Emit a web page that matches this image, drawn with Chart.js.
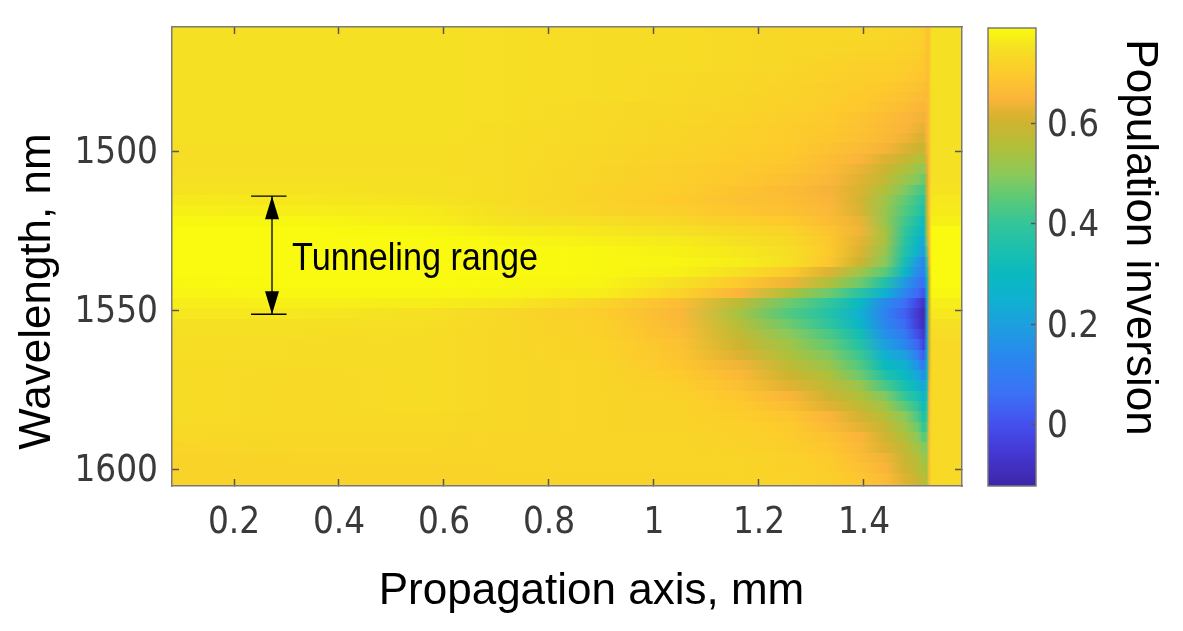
<!DOCTYPE html>
<html>
<head>
<meta charset="utf-8">
<title>Population inversion</title>
<script src="https://cdn.jsdelivr.net/npm/chart.js@4"></script>
<style>
  body { margin: 0; background: #fff; }
  #wrap { position: relative; width: 1183px; height: 631px; }
  canvas { position: absolute; left: 0; top: 0; }
</style>
</head>
<body>
<div id="wrap">
  <canvas id="chartMap" width="1183" height="631"></canvas>
  <canvas id="chartBar" width="1183" height="631"></canvas>
</div>
<script>
// propagation axis, mm (columns of the map)
const positions = [0.082, 0.326, 0.573, 0.726, 0.897, 1.05, 1.162, 1.257, 1.333, 1.392, 1.44, 1.478, 1.503, 1.514, 1.520, 1.524, 1.529, 1.587];

// wavelength, nm (rows of the map)
const wavelengths = [
  1460.3, 1463.5, 1466.8, 1470.0, 1473.3, 1476.5, 1479.8, 1483.0, 1486.2, 1489.5,
  1492.7, 1496.0, 1499.2, 1502.5, 1505.7, 1508.9, 1512.2, 1515.4, 1518.7, 1521.9,
  1525.2, 1528.4, 1531.6, 1534.9, 1538.1, 1541.4, 1544.6, 1547.8, 1551.0, 1554.3,
  1557.5, 1560.8, 1564.0, 1567.2, 1570.5, 1573.7, 1577.0, 1580.2, 1583.5, 1586.7,
  1589.9, 1593.2, 1596.4, 1599.7, 1602.9, 1606.1
];

// population inversion, one row per wavelength
const inversion = [
  [.75,.75,.75,.745,.74,.74,.735,.73,.73,.73,.73,.725,.72,.71,.685,.68,.75,.75],
  [.75,.75,.75,.745,.74,.74,.735,.73,.73,.73,.73,.725,.72,.71,.685,.68,.75,.75],
  [.75,.75,.75,.745,.74,.74,.735,.73,.73,.725,.725,.72,.715,.705,.68,.68,.75,.75],
  [.75,.75,.75,.745,.74,.74,.735,.73,.725,.72,.72,.715,.71,.70,.675,.68,.75,.75],
  [.75,.75,.75,.745,.74,.74,.735,.73,.72,.715,.715,.71,.70,.695,.675,.68,.75,.75],
  [.75,.75,.75,.745,.74,.735,.73,.725,.715,.71,.71,.70,.69,.685,.67,.68,.75,.75],
  [.75,.75,.75,.745,.74,.735,.73,.72,.71,.705,.70,.69,.68,.675,.665,.68,.75,.75],
  [.75,.75,.75,.745,.74,.735,.725,.72,.71,.70,.69,.68,.67,.665,.66,.68,.75,.75],
  [.75,.75,.75,.745,.735,.73,.725,.715,.705,.695,.68,.67,.655,.65,.66,.68,.75,.75],
  [.75,.75,.75,.745,.735,.73,.72,.71,.70,.685,.67,.655,.645,.64,.65,.68,.75,.75],
  [.75,.75,.75,.74,.735,.725,.715,.705,.695,.68,.665,.65,.635,.63,.65,.68,.75,.75],
  [.75,.75,.75,.74,.735,.725,.715,.705,.69,.675,.66,.64,.62,.615,.65,.68,.75,.75],
  [.745,.745,.745,.74,.73,.72,.71,.70,.68,.665,.645,.62,.60,.59,.64,.68,.75,.75],
  [.745,.745,.745,.74,.73,.715,.705,.695,.67,.65,.62,.59,.56,.55,.63,.68,.75,.75],
  [.745,.745,.745,.74,.725,.71,.70,.685,.665,.635,.60,.55,.52,.50,.62,.68,.75,.75],
  [.75,.75,.75,.74,.725,.71,.695,.675,.655,.625,.58,.52,.49,.46,.60,.68,.75,.75],
  [.755,.755,.75,.74,.72,.705,.685,.665,.645,.615,.55,.49,.44,.42,.60,.68,.755,.755],
  [.765,.76,.755,.74,.72,.70,.68,.67,.65,.61,.53,.46,.41,.38,.58,.68,.76,.76],
  [.775,.77,.765,.745,.725,.71,.69,.675,.66,.615,.52,.44,.39,.35,.58,.68,.765,.765],
  [.785,.785,.77,.755,.745,.73,.71,.70,.67,.635,.52,.42,.35,.31,.56,.67,.775,.775],
  [.79,.79,.785,.77,.76,.75,.735,.72,.685,.64,.54,.40,.32,.27,.55,.67,.79,.79],
  [.79,.79,.79,.785,.775,.765,.75,.735,.695,.63,.54,.38,.29,.22,.50,.66,.79,.79],
  [.79,.79,.79,.79,.785,.775,.76,.745,.70,.62,.52,.36,.25,.18,.45,.65,.79,.79],
  [.79,.79,.79,.79,.785,.78,.77,.75,.69,.60,.50,.33,.18,.12,.40,.64,.79,.79],
  [.79,.79,.79,.79,.785,.775,.75,.70,.62,.53,.45,.28,.14,.10,.35,.62,.79,.79],
  [.785,.79,.79,.785,.78,.75,.70,.64,.55,.47,.36,.18,.09,.05,.30,.60,.79,.79],
  [.78,.785,.785,.78,.77,.72,.65,.55,.47,.38,.25,.13,.05,.0,.25,.60,.785,.785],
  [.77,.775,.77,.76,.725,.67,.57,.47,.40,.30,.14,.06,-.03,-.08,.22,.60,.77,.77],
  [.76,.76,.75,.73,.71,.655,.54,.44,.37,.25,.12,.03,-.06,-.11,.20,.60,.76,.76],
  [.75,.75,.745,.73,.715,.66,.56,.47,.39,.28,.13,.05,-.05,-.10,.20,.60,.75,.75],
  [.745,.745,.74,.73,.715,.67,.58,.50,.43,.33,.16,.09,-.01,-.07,.20,.60,.74,.74],
  [.745,.74,.74,.73,.72,.68,.60,.53,.46,.37,.20,.13,.04,-.04,.22,.60,.735,.735],
  [.745,.74,.74,.73,.72,.685,.62,.55,.49,.41,.25,.20,.10,.02,.24,.61,.735,.735],
  [.74,.74,.74,.73,.725,.69,.64,.575,.52,.44,.30,.25,.16,.07,.27,.62,.735,.735],
  [.74,.735,.74,.73,.725,.70,.66,.60,.55,.47,.36,.30,.22,.14,.30,.63,.735,.735],
  [.74,.735,.74,.73,.725,.71,.675,.625,.575,.52,.43,.34,.28,.20,.33,.64,.735,.735],
  [.74,.735,.74,.73,.725,.715,.69,.65,.60,.55,.49,.40,.34,.27,.37,.65,.735,.735],
  [.74,.735,.74,.73,.725,.72,.70,.67,.625,.58,.53,.45,.39,.31,.40,.66,.735,.735],
  [.74,.735,.735,.73,.725,.72,.71,.69,.65,.61,.56,.50,.43,.35,.42,.66,.735,.735],
  [.735,.735,.735,.73,.725,.72,.715,.70,.665,.63,.59,.53,.47,.39,.45,.67,.735,.735],
  [.735,.73,.73,.725,.725,.725,.715,.705,.68,.65,.605,.55,.50,.44,.48,.67,.735,.735],
  [.725,.73,.73,.725,.725,.725,.72,.71,.69,.66,.62,.58,.53,.49,.50,.68,.735,.735],
  [.72,.725,.725,.725,.725,.725,.725,.715,.70,.67,.64,.59,.56,.52,.52,.68,.735,.735],
  [.72,.72,.72,.725,.725,.725,.725,.715,.705,.68,.65,.60,.57,.54,.54,.68,.735,.735],
  [.72,.72,.72,.72,.72,.72,.725,.72,.71,.69,.665,.62,.59,.56,.56,.68,.735,.735],
  [.72,.72,.72,.72,.72,.72,.725,.72,.71,.695,.67,.63,.60,.58,.58,.68,.735,.735]
];

// axis ranges and ticks
const xRange = [0.0819, 1.5867];
const yRange = [1461, 1605.3];
const barRange = [-0.123, 0.791];
const xTicks = [0.2, 0.4, 0.6, 0.8, 1, 1.2, 1.4];
const yTicks = [1500, 1550, 1600];
const barTicks = [0, 0.2, 0.4, 0.6];

// tunneling range marker
const tunnelRange = [1514.2, 1551.3];
const tunnelX = [0.2325, 0.2724, 0.3];
const tunnelLabel = 'Tunneling range';
const tunnelLabelAt = [0.3105, 1534.0];

// colour scale as it reads from the colour bar
const cmapValues = [-0.123, -0.05, 0, 0.06, 0.13, 0.2, 0.25, 0.3, 0.35, 0.4, 0.45, 0.5, 0.55, 0.6, 0.625, 0.65, 0.7, 0.75, 0.791];
const cmapColors = [
  [62, 38, 168], [68, 58, 215], [68, 80, 238], [60, 112, 246], [42, 134, 238], [29, 160, 223],
  [15, 177, 208], [10, 185, 192], [28, 192, 173], [51, 197, 154], [90, 202, 120], [140, 201, 90],
  [175, 192, 58], [205, 180, 48], [225, 178, 50], [251, 181, 58], [253, 202, 44], [245, 224, 35], [249, 251, 14]
];

function valueColor(v) {
  let i = 0;
  while (i < cmapValues.length - 2 && v > cmapValues[i + 1]) i++;
  let t = (v - cmapValues[i]) / (cmapValues[i + 1] - cmapValues[i]);
  t = Math.max(0, Math.min(1, t));
  const a = cmapColors[i], b = cmapColors[i + 1];
  return 'rgb(' + [0, 1, 2].map(k => Math.round(a[k] + (b[k] - a[k]) * t)).join(',') + ')';
}

const TICK_FONT = { family: '"DejaVu Sans Condensed", "DejaVu Sans"', size: 36.5 };
const TITLE_FONT = '44px "Liberation Sans"';
const TICK_COLOR = '#3a3a3a';
const AXIS_COLOR = '#7a7a7a';

// every row of the map is one band, coloured along x through the x scale
const heatRows = {
  id: 'heatRows',
  beforeDatasetsDraw(chart) {
    const { ctx, chartArea, scales } = chart;
    ctx.save();
    ctx.beginPath();
    ctx.rect(chartArea.left, chartArea.top, chartArea.width, chartArea.height);
    ctx.clip();
    const x0 = scales.x.getPixelForValue(positions[0]);
    const x1 = scales.x.getPixelForValue(positions[positions.length - 1]);
    wavelengths.forEach((w, i) => {
      const prev = i > 0 ? (w + wavelengths[i - 1]) / 2 : w - 1.62;
      const next = i < wavelengths.length - 1 ? (w + wavelengths[i + 1]) / 2 : w + 1.62;
      const top = Math.round(scales.y.getPixelForValue(prev));
      const bottom = Math.round(scales.y.getPixelForValue(next));
      const g = ctx.createLinearGradient(x0, 0, x1, 0);
      positions.forEach((p, j) => {
        g.addColorStop((scales.x.getPixelForValue(p) - x0) / (x1 - x0), valueColor(inversion[i][j]));
      });
      ctx.fillStyle = g;
      ctx.fillRect(chartArea.left, top, chartArea.width, bottom - top);
    });
    ctx.restore();
  }
};

// bracket with two arrow heads and its label
const tunnelMark = {
  id: 'tunnelMark',
  afterDatasetsDraw(chart) {
    const { ctx, scales } = chart;
    const top = scales.y.getPixelForValue(tunnelRange[0]);
    const bottom = scales.y.getPixelForValue(tunnelRange[1]);
    const left = scales.x.getPixelForValue(tunnelX[0]);
    const mid = scales.x.getPixelForValue(tunnelX[1]);
    const right = scales.x.getPixelForValue(tunnelX[2]);
    ctx.save();
    ctx.strokeStyle = '#000';
    ctx.fillStyle = '#000';
    ctx.lineWidth = 1.3;
    ctx.beginPath();
    ctx.moveTo(left, top); ctx.lineTo(right, top);
    ctx.moveTo(left, bottom); ctx.lineTo(right, bottom);
    ctx.moveTo(mid, top); ctx.lineTo(mid, bottom);
    ctx.stroke();
    ctx.beginPath();
    ctx.moveTo(mid, top); ctx.lineTo(mid - 7, top + 23); ctx.lineTo(mid + 7, top + 23); ctx.closePath();
    ctx.moveTo(mid, bottom); ctx.lineTo(mid - 7, bottom - 23); ctx.lineTo(mid + 7, bottom - 23); ctx.closePath();
    ctx.fill();
    ctx.translate(scales.x.getPixelForValue(tunnelLabelAt[0]), scales.y.getPixelForValue(tunnelLabelAt[1]));
    ctx.scale(0.9, 1);
    ctx.font = '38px "Liberation Sans"';
    ctx.textBaseline = 'middle';
    ctx.fillText(tunnelLabel, 0, 0);
    ctx.restore();
  }
};

// axis titles sit off centre in the picture, the scale title cannot do that
function drawTitle(ctx, text, x, y, angle) {
  ctx.save();
  ctx.translate(x, y);
  ctx.rotate(angle);
  ctx.font = TITLE_FONT;
  ctx.fillStyle = '#000';
  ctx.textAlign = 'center';
  ctx.textBaseline = 'alphabetic';
  ctx.fillText(text, 0, 0);
  ctx.restore();
}

const mapTitles = {
  id: 'mapTitles',
  afterDraw(chart) {
    drawTitle(chart.ctx, 'Propagation axis, mm', 591.5, 604, 0);
    drawTitle(chart.ctx, 'Wavelength, nm', 50, 291.5, -Math.PI / 2);
  }
};

const barOutline = {
  id: 'barOutline',
  afterDraw(chart) {
    const { ctx, chartArea } = chart;
    ctx.save();
    ctx.strokeStyle = AXIS_COLOR;
    ctx.lineWidth = 1.5;
    ctx.strokeRect(chartArea.left, chartArea.top, chartArea.width, chartArea.height);
    ctx.restore();
    drawTitle(ctx, 'Population inversion', 1127, 237.5, Math.PI / 2);
  }
};

// pin the axis box so the plot area lands where it does in the picture
function fixedSize(prop, size) {
  return scale => {
    scale[prop] = size;
    scale.paddingLeft = scale.paddingRight = scale.paddingTop = scale.paddingBottom = 0;
  };
}

function mapAxis(position, prop, size, range, ticks, labels, reverse) {
  const horizontal = prop === 'height';
  return {
    type: 'linear',
    position: position,
    min: range[0],
    max: range[1],
    reverse: reverse,
    afterFit: fixedSize(prop, size),
    afterBuildTicks: scale => { scale.ticks = ticks.map(v => ({ value: v })); },
    grid: { drawOnChartArea: false, drawTicks: true, tickLength: -7, tickWidth: 1.5, tickColor: '#555', z: 1 },
    border: { display: true, color: AXIS_COLOR, width: 1.5, z: 1 },
    ticks: {
      display: labels,
      padding: horizontal ? 23 : 21,
      labelOffset: horizontal ? 0 : 2,
      autoSkip: false,
      maxRotation: 0,
      font: TICK_FONT,
      color: TICK_COLOR,
      callback: v => String(v)
    }
  };
}

new Chart(document.getElementById('chartMap'), {
  type: 'scatter',
  data: {
    datasets: [{
      label: 'Population inversion',
      pointRadius: 0,
      data: wavelengths.flatMap((w, i) => positions.map((p, j) => ({ x: p, y: w, v: inversion[i][j] })))
    }]
  },
  options: {
    responsive: false,
    animation: false,
    layout: { padding: 0 },
    plugins: { legend: { display: false }, tooltip: { enabled: false } },
    scales: {
      x: mapAxis('bottom', 'height', 145, xRange, xTicks, true, false),
      x2: mapAxis('top', 'height', 27, xRange, xTicks, false, false),
      y: mapAxis('left', 'width', 172, yRange, yTicks, true, true),
      y2: mapAxis('right', 'width', 221, yRange, yTicks, false, true)
    }
  },
  plugins: [heatRows, tunnelMark, mapTitles]
});

new Chart(document.getElementById('chartBar'), {
  type: 'bar',
  data: {
    labels: [''],
    datasets: [{
      label: 'Colour scale',
      data: [barRange],
      barPercentage: 1,
      categoryPercentage: 1,
      backgroundColor(context) {
        const { chart } = context;
        if (!chart.chartArea) return 'transparent';
        const y = chart.scales.y;
        const top = y.getPixelForValue(barRange[1]);
        const bottom = y.getPixelForValue(barRange[0]);
        const g = chart.ctx.createLinearGradient(0, bottom, 0, top);
        cmapValues.forEach(v => {
          g.addColorStop((v - barRange[0]) / (barRange[1] - barRange[0]), valueColor(v));
        });
        return g;
      }
    }]
  },
  options: {
    responsive: false,
    animation: false,
    layout: { padding: { left: 988, top: 28, bottom: 145 } },
    plugins: { legend: { display: false }, tooltip: { enabled: false } },
    scales: {
      x: { display: false },
      y: {
        position: 'right',
        min: barRange[0],
        max: barRange[1],
        afterFit: fixedSize('width', 147),
        afterBuildTicks: scale => { scale.ticks = barTicks.map(v => ({ value: v })); },
        grid: { drawOnChartArea: false, tickLength: -5, tickWidth: 1.5, tickColor: '#555', z: 1 },
        border: { display: false },
        ticks: { padding: 16, labelOffset: 3, font: TICK_FONT, color: TICK_COLOR, callback: v => String(v) }
      }
    }
  },
  plugins: [barOutline]
});
</script>
</body>
</html>
